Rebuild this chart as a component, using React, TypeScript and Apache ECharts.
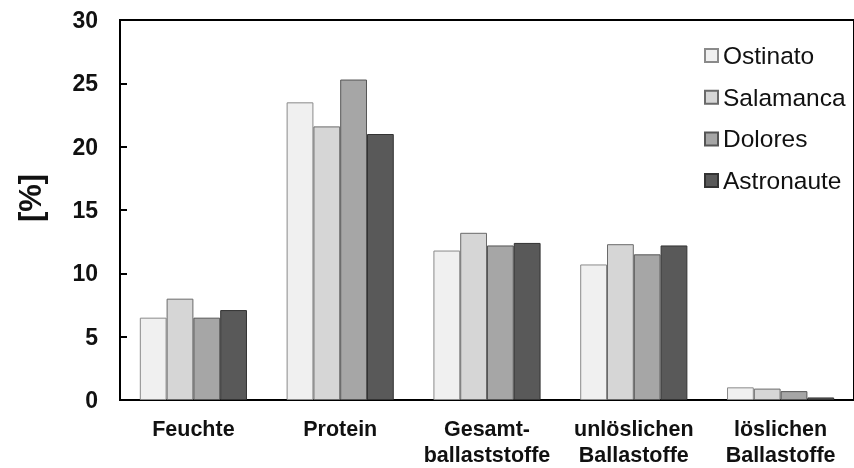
import React, { useEffect, useRef } from "react";
import * as echarts from "echarts";

const categories = ["Feuchte", "Protein", "Gesamt-\nballaststoffe", "unlöslichen\nBallastoffe", "löslichen\nBallastoffe"];
const seriesNames = ["Ostinato", "Salamanca", "Dolores", "Astronaute"];
const ostinato = [6.5, 23.5, 11.8, 10.7, 1.0];
const salamanca = [8.0, 21.6, 13.2, 12.3, 0.9];
const dolores = [6.5, 25.3, 12.2, 11.5, 0.7];
const astronaute = [7.1, 21.0, 12.4, 12.2, 0.2];
const colors = ["#f0f0f0", "#d6d6d6", "#a6a6a6", "#595959"];
const borders = ["#8a8a8a", "#6a6a6a", "#555555", "#333333"];

export default function App() {
  const ref = useRef<HTMLDivElement>(null);
  useEffect(() => {
    if (!ref.current) return;
    const chart = echarts.init(ref.current, null, { renderer: "svg" });
    const font = "'Liberation Sans', Arial, sans-serif";
    const data = [ostinato, salamanca, dolores, astronaute];
    chart.setOption({
      animation: false,
      textStyle: { fontFamily: font },
      grid: {
        left: 120,
        top: 20,
        bottom: 66,
        right: -11,
        show: true,
        borderColor: "#000",
        borderWidth: 2,
        backgroundColor: "transparent",
      },
      legend: {
        orient: "vertical",
        left: 704,
        top: 43,
        padding: 0,
        itemWidth: 13,
        itemHeight: 13,
        itemGap: 16.7,
        icon: "rect",
        textStyle: { fontSize: 24.5, color: "#111", fontFamily: font, lineHeight: 25 },
        data: seriesNames,
      },
      xAxis: {
        type: "category",
        data: categories,
        axisLine: { lineStyle: { color: "#000", width: 2 } },
        axisTick: { show: false },
        axisLabel: {
          interval: 0,
          fontSize: 21.5,
          fontWeight: "bold",
          color: "#111",
          margin: 16,
          lineHeight: 26,
          fontFamily: font,
        },
      },
      yAxis: {
        type: "value",
        min: 0,
        max: 30,
        interval: 5,
        splitLine: { show: false },
        axisLine: { show: true, lineStyle: { color: "#000", width: 2 } },
        axisTick: { show: true, inside: true, length: 7, lineStyle: { color: "#000", width: 2 } },
        axisLabel: { fontSize: 23, fontWeight: "bold", color: "#111", margin: 22, fontFamily: font },
      },
      graphic: [
        {
          type: "text",
          x: 30,
          y: 198,
          rotation: Math.PI / 2,
          style: {
            text: "[%]",
            fontSize: 31,
            fontWeight: "bold",
            fill: "#111",
            fontFamily: font,
            align: "center",
            verticalAlign: "middle",
          },
        },
      ],
      series: seriesNames.map((name, i) => ({
        name,
        type: "bar",
        data: data[i],
        barGap: "0%",
        barCategoryGap: "27%",
        itemStyle: { color: colors[i], borderColor: borders[i], borderWidth: 1 },
      })),
    });
    return () => chart.dispose();
  }, []);
  return <div ref={ref} style={{ position: "fixed", left: 0, top: 0, width: 854, height: 468 }} />;
}
